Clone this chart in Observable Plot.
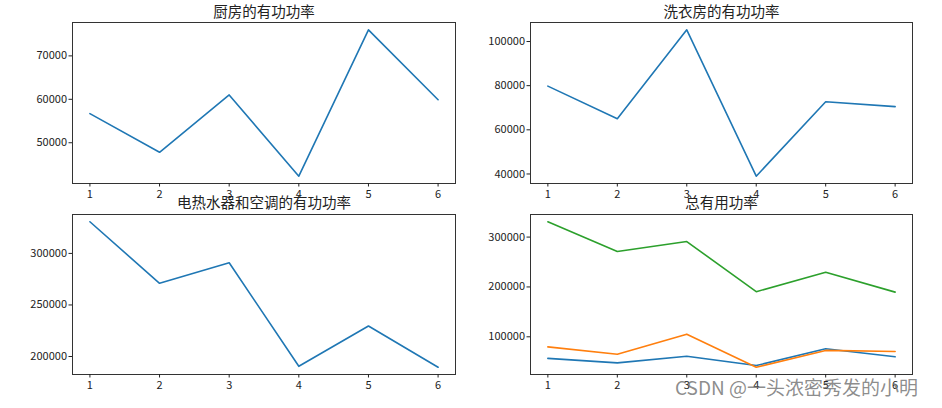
<!DOCTYPE html>
<html>
<head>
<meta charset="utf-8">
<script src="https://cdn.jsdelivr.net/npm/d3@7"></script>
<script src="https://cdn.jsdelivr.net/npm/@observablehq/plot@0.6"></script>
<style>
  html, body { margin: 0; padding: 0; background: #fff; }
  #page { position: relative; width: 942px; height: 408px; overflow: hidden; font-family: "Noto Sans CJK SC", sans-serif; }
  .panel { position: absolute; }
  .panel svg { display: block; max-width: none; }
  #wm { position: absolute; left: 675px; top: 373px; font-size: 19px; line-height: 28px; color: rgba(120,120,120,0.85); white-space: nowrap; font-family: "Noto Sans CJK SC", sans-serif; }
</style>
</head>
<body>
<div id="page"></div>
<script>
// ---- data ----
const hours = [1, 2, 3, 4, 5, 6];
const kitchen = [56700, 47800, 61000, 42300, 76000, 59900];
const laundry = [79800, 65000, 105300, 39000, 72700, 70500];
const heaterAC = [330700, 271000, 291000, 190500, 229600, 189600];
const titles = ["厨房的有功功率", "洗衣房的有功功率", "电热水器和空调的有功功率", "总有用功率"];
const yTicks1 = [50000, 60000, 70000];
const yTicks2 = [40000, 60000, 80000, 100000];
const yTicks3 = [200000, 250000, 300000];
const yTicks4 = [100000, 200000, 300000];
const colors = ["#1f77b4", "#ff7f0e", "#2ca02c"];

const page = document.getElementById("page");

function padDomain(vals) {
  const lo = d3.min(vals), hi = d3.max(vals), m = (hi - lo) * 0.05;
  return [lo - m, hi + m];
}

function panel({left, top, width, height, margins, series, yTicks, title, titleDy}) {
  const rows = [];
  series.forEach((s, k) => s.values.forEach((v, i) => rows.push({x: hours[i], y: v, k})));
  const all = series.flatMap(s => s.values);
  const marks = [
    Plot.frame({stroke: "#333", strokeWidth: 1}),
    Plot.axisX({ticks: hours, tickSize: 3.5, tickPadding: 3, label: null, fontSize: 11, color: "#222", tickFormat: d => String(d)}),
    Plot.axisY({ticks: yTicks, tickSize: 3.5, tickPadding: 2, label: null, fontSize: 11, color: "#222", tickFormat: d => String(d)}),
  ];
  series.forEach((s, k) => {
    marks.push(Plot.line(rows.filter(r => r.k === k), {x: "x", y: "y", stroke: s.color, strokeWidth: 1.6}));
  });
  marks.push(Plot.text([title], {frameAnchor: "top", text: d => d, dy: titleDy, fontSize: 14.5, fill: "#222", lineAnchor: "middle"}));
  const p = Plot.plot({
    width, height,
    marginLeft: margins[0], marginRight: margins[1], marginTop: margins[2], marginBottom: margins[3],
    x: {domain: [0.75, 6.25]},
    y: {domain: padDomain(all)},
    style: {background: "transparent", fontFamily: "Noto Sans CJK SC, sans-serif", overflow: "visible"},
    marks
  });
  const div = document.createElement("div");
  div.className = "panel";
  div.style.left = left + "px";
  div.style.top = top + "px";
  div.appendChild(p);
  page.appendChild(div);
}

panel({left: 0, top: 0, width: 471, height: 204, margins: [72, 16, 22, 21],
  series: [{values: kitchen, color: colors[0]}], yTicks: yTicks1, title: titles[0], titleDy: -10});
panel({left: 471, top: 0, width: 471, height: 204, margins: [59, 30, 22, 21],
  series: [{values: laundry, color: colors[0]}], yTicks: yTicks2, title: titles[1], titleDy: -10});
panel({left: 0, top: 190, width: 471, height: 218, margins: [72, 16, 24, 34],
  series: [{values: heaterAC, color: colors[0]}], yTicks: yTicks3, title: titles[2], titleDy: -11});
panel({left: 471, top: 190, width: 471, height: 218, margins: [59, 30, 24, 34],
  series: [{values: kitchen, color: colors[0]}, {values: laundry, color: colors[1]}, {values: heaterAC, color: colors[2]}],
  yTicks: yTicks4, title: titles[3], titleDy: -11});

const wm = document.createElement("div");
wm.id = "wm";
wm.textContent = "CSDN @一头浓密秀发的小明";
page.appendChild(wm);
</script>
</body>
</html>
